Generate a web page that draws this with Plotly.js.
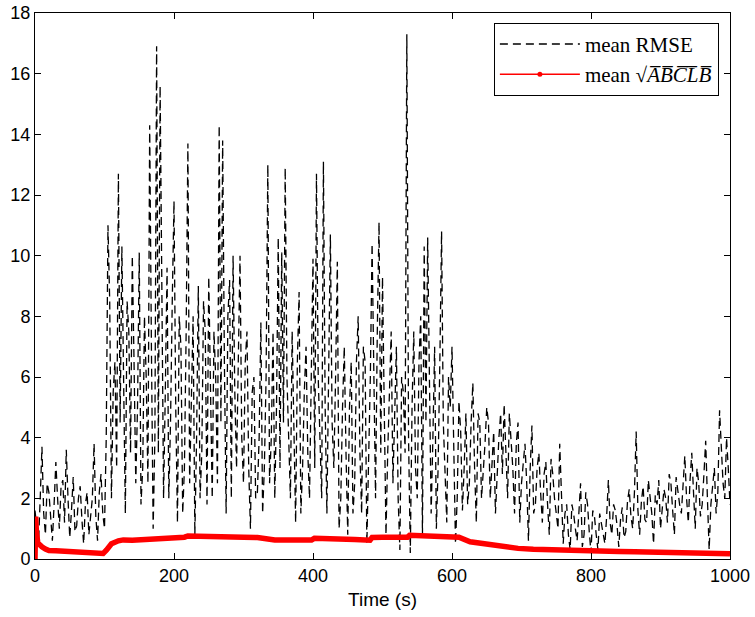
<!DOCTYPE html>
<html>
<head>
<meta charset="utf-8">
<script src="https://cdn.plot.ly/plotly-3.0.1.min.js"></script>
<style>html,body{margin:0;padding:0;background:#fff;}#chart{width:755px;height:617px;}</style>
</head>
<body>
<div id="chart"></div>
<script>
// mean RMSE, samples on the 5 s grid (s)
const rmseTime = [0,5,10,15,20,25,30,35,40,45,50,55,60,65,70,75,80,85,90,95,
100,105,110,115,120,125,130,135,140,145,150,155,160,165,170,175,180,185,190,195,
200,205,210,215,220,225,230,235,240,245,250,255,260,265,270,275,280,285,290,295,
300,305,310,315,320,325,330,335,340,345,350,355,360,365,370,375,380,385,390,395,
400,405,410,415,420,425,430,435,440,445,450,455,460,465,470,475,480,485,490,495,
500,505,510,515,520,525,530,535,540,545,550,555,560,565,570,575,580,585,590,595,
600,605,610,615,620,625,630,635,640,645,650,655,660,665,670,675,680,685,690,695,
700,705,710,715,720,725,730,735,740,745,750,755,760,765,770,775,780,785,790,795,
800,805,810,815,820,825,830,835,840,845,850,855,860,865,870,875,880,885,890,895,
900,905,910,915,920,925,930,935,940,945,950,955,960,965,970,975,980,985,990,995,1000];
const rmseValues = [1.6,0.5,3.7,0.8,2.2,0.6,3.2,1.0,2.6,3.6,0.7,2.7,1.1,2.4,0.5,2.2,1.3,3.8,0.6,2.8,
1.0,11.0,2.0,6.5,12.7,10.3,1.5,7.5,10.0,2.5,10.1,3.0,6.0,14.3,1.0,16.9,15.6,2.0,9.6,4.5,
11.8,1.2,7.0,3.0,13.7,5.5,0.8,9.0,3.5,7.5,9.3,2.0,6.0,14.3,13.8,1.5,9.2,10.0,3.0,10.0,
2.5,7.5,1.0,6.0,2.2,7.8,3.0,13.0,4.0,2.0,10.6,10.1,12.9,3.5,7.5,1.2,8.8,3.0,7.0,2.0,
9.9,12.7,4.0,13.1,1.5,10.7,3.0,9.8,2.0,7.0,0.8,6.5,2.5,8.0,1.5,6.5,3.0,10.4,2.0,11.1,
9.3,0.8,6.0,2.5,7.0,0.3,5.5,17.3,0.2,7.5,2.0,8.0,10.3,10.6,1.5,7.0,3.0,10.8,2.5,6.0,
7.0,0.5,5.2,1.6,4.8,2.5,5.8,1.2,4.5,2.8,5.0,2.0,4.2,3.0,4.8,5.1,2.0,4.0,1.5,4.5,
2.5,3.8,0.6,4.4,1.8,3.5,1.2,3.2,0.8,2.8,1.5,3.8,0.5,1.8,0.3,1.5,0.6,2.5,0.8,1.8,
0.2,1.4,0.3,1.2,0.5,2.6,0.8,1.6,0.4,1.7,0.9,2.3,1.0,4.2,0.8,2.4,1.2,2.0,0.5,1.8,
1.0,2.3,1.2,2.5,0.8,2.2,1.5,3.4,1.2,3.5,1.0,2.5,1.8,3.9,0.3,2.5,1.5,4.9,2.5,4.0,1.8];

// mean RMSE, samples between the 5 s grid points (s)
const rmseMidTime = [2.5,7.5,12.5,17.5,22.5,27.5,32.5,37.5,42.5,47.5,52.5,57.5,62.5,67.5,72.5,77.5,82.5,87.5,92.5,97.5,
102.5,107.5,112.5,117.5,122.5,127.5,132.5,137.5,142.5,147.5,152.5,157.5,162.5,167.5,172.5,177.5,182.5,187.5,192.5,197.5,
202.5,207.5,212.5,217.5,222.5,227.5,232.5,237.5,242.5,247.5,252.5,257.5,262.5,267.5,272.5,277.5,282.5,287.5,292.5,297.5,
302.5,307.5,312.5,317.5,322.5,327.5,332.5,337.5,342.5,347.5,352.5,357.5,362.5,367.5,372.5,377.5,382.5,387.5,392.5,397.5,
402.5,407.5,412.5,417.5,422.5,427.5,432.5,437.5,442.5,447.5,452.5,457.5,462.5,467.5,472.5,477.5,482.5,487.5,492.5,497.5,
502.5,507.5,512.5,517.5,522.5,527.5,532.5,537.5,542.5,547.5,552.5,557.5,562.5,567.5,572.5,577.5,582.5,587.5,592.5,597.5,
602.5,607.5,612.5,617.5,622.5,627.5,632.5,637.5,642.5,647.5,652.5,657.5,662.5,667.5,672.5,677.5,682.5,687.5,692.5,697.5,
702.5,707.5,712.5,717.5,722.5,727.5,732.5,737.5,742.5,747.5,752.5,757.5,762.5,767.5,772.5,777.5,782.5,787.5,792.5,797.5,
802.5,807.5,812.5,817.5,822.5,827.5,832.5,837.5,842.5,847.5,852.5,857.5,862.5,867.5,872.5,877.5,882.5,887.5,892.5,897.5,
902.5,907.5,912.5,917.5,922.5,927.5,932.5,937.5,942.5,947.5,952.5,957.5,962.5,967.5,972.5,977.5,982.5,987.5,992.5,997.5];
const rmseMidValues = [1.0,2.0,1.5,2.5,1.4,1.8,2.0,2.4,1.2,2.0,1.6,0.9,2.0,1.3,1.8,0.8,2.0,1.4,2.2,1.5,
4.0,8.5,5.5,3.0,4.5,6.0,8.5,3.5,6.5,5.0,1.8,8.0,2.5,7.0,4.0,3.5,9.0,5.5,2.0,8.5,
5.0,8.0,1.5,7.5,2.5,8.0,4.0,2.0,8.5,1.8,5.0,7.5,2.5,4.5,6.5,8.0,2.0,5.5,6.5,4.0,
6.5,3.0,5.5,2.0,4.0,1.5,6.0,2.5,7.5,5.0,3.0,4.5,6.0,2.0,4.0,6.5,1.5,5.5,3.5,6.0,
3.0,6.0,2.0,5.0,7.0,4.5,6.0,1.0,5.0,3.5,5.0,1.5,6.5,3.5,7.0,0.5,6.0,5.5,7.5,3.5,
5.0,3.5,7.5,4.5,2.0,6.0,3.5,4.0,5.0,3.0,6.5,0.8,4.5,6.0,4.0,1.0,6.5,4.5,1.2,5.0,
3.5,2.0,4.2,3.0,1.8,4.5,3.0,4.8,2.0,3.8,4.5,3.2,1.5,4.0,2.8,3.5,4.8,3.0,3.8,1.2,
3.2,2.5,3.0,1.5,3.0,2.2,2.8,1.8,3.3,2.0,1.0,2.2,1.5,0.8,1.8,1.0,1.5,0.4,2.2,0.9,
1.6,0.8,1.5,0.9,1.4,1.2,1.8,1.1,1.3,0.7,1.9,1.4,2.2,1.6,1.9,1.3,2.6,1.5,2.1,2.6,
1.6,2.0,2.8,1.6,2.7,1.8,2.4,2.0,2.6,2.2,3.0,1.4,2.8,2.0,1.8,3.0,2.2,3.5,2.0,3.0];

// mean sqrt(ABCLB)
const lbTime = [0,1,2,4,7,10,15,20,30,40,50,60,70,80,90,98,103,110,120,127,140,160,175,190,215,220,240,260,280,300,320,335,345,370,398,402,430,460,482,485,500,520,536,539,560,580,600,610,626,650,674,695,717,740,767,790,815,840,863,890,911,935,959,980,1000];
const lbValues = [0,1.4,0.9,0.53,0.45,0.4,0.33,0.28,0.27,0.26,0.22,0.2,0.2,0.19,0.19,0.18,0.3,0.5,0.6,0.63,0.62,0.64,0.69,0.71,0.72,0.76,0.74,0.73,0.74,0.72,0.71,0.66,0.63,0.63,0.63,0.68,0.68,0.64,0.62,0.71,0.72,0.71,0.72,0.78,0.77,0.77,0.76,0.72,0.57,0.48,0.41,0.35,0.32,0.3,0.27,0.27,0.27,0.25,0.24,0.22,0.2,0.19,0.17,0.17,0.17];

const xTicks = [0,200,400,600,800,1000];
const yTicks = [0,2,4,6,8,10,12,14,16,18];

// merge the two RMSE sample sets in time order
const rmsePairs = rmseTime.map((t, i) => [t, rmseValues[i]])
  .concat(rmseMidTime.map((t, i) => [t, rmseMidValues[i]]))
  .sort((a, b) => a[0] - b[0]);

const traces = [
  {x: rmsePairs.map(p => p[0]), y: rmsePairs.map(p => p[1]), type: 'scatter', mode: 'lines', name: 'mean RMSE',
   line: {color: '#000', width: 1.3, dash: '8px,5px'}},
  {x: lbTime, y: lbValues, type: 'scatter', mode: 'lines', name: 'lb', showlegend: false,
   line: {color: '#ff0000', width: 5.5}},
  {x: [null], y: [null], type: 'scatter', mode: 'lines+markers', name: 'mean √<i>A̅B̅C̅L̅B̅</i>',
   line: {color: '#ff0000', width: 1.5}, marker: {color: '#ff0000', size: 5}}
];

const axisCommon = {
  showline: true, linecolor: '#000', linewidth: 1, mirror: 'ticks',
  ticks: 'inside', ticklen: 6, tickcolor: '#000', showgrid: false, zeroline: false,
  tickfont: {family: 'Liberation Sans, Arial, sans-serif', size: 18, color: '#000'}
};

const layout = {
  width: 755, height: 617,
  margin: {l: 35, r: 25, t: 13, b: 58},
  paper_bgcolor: '#fff', plot_bgcolor: '#fff',
  xaxis: Object.assign({}, axisCommon, {range: [0, 1000], tickvals: xTicks,
    title: {text: 'Time (s)', font: {family: 'Liberation Sans, Arial, sans-serif', size: 19, color: '#000'}, standoff: 8}}),
  yaxis: Object.assign({}, axisCommon, {range: [0, 18], tickvals: yTicks}),
  legend: {x: 0.984, y: 0.982, xanchor: 'right', yanchor: 'top', bgcolor: '#fff',
    bordercolor: '#000', borderwidth: 1, tracegroupgap: 0, itemwidth: 80,
    font: {family: 'Liberation Serif, Times New Roman, serif', size: 21, color: '#000'}},
  showlegend: true
};

Plotly.newPlot('chart', traces, layout, {staticPlot: true, displayModeBar: false});
</script>
</body>
</html>
